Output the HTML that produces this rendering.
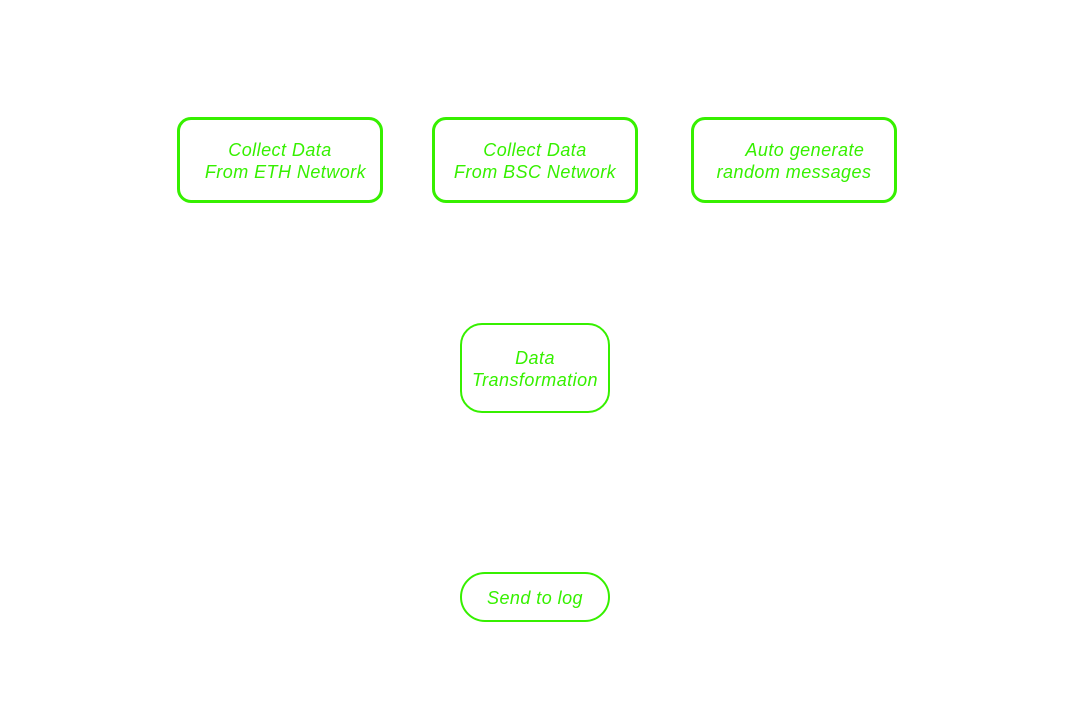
<!DOCTYPE html>
<html>
<head>
<meta charset="utf-8">
<style>
  html, body { margin:0; padding:0; background:#ffffff; }
  body { width:1069px; height:708px; position:relative; overflow:hidden;
         font-family:"Liberation Sans", Arial, sans-serif; }
  .box { position:absolute; box-sizing:border-box; border:3px solid #36f000;
         border-radius:14px; display:flex; align-items:center; justify-content:center;
         text-align:center; color:#36f000; font-style:italic; font-size:18px; line-height:22px;
         letter-spacing:0.45px; padding-top:2px; }
  .thin { border-width:2px; }
</style>
</head>
<body>
  <div class="box" style="left:177px; top:117px; width:206px; height:86px;">Collect Data<br>&nbsp;&nbsp;From ETH Network</div>
  <div class="box" style="left:432px; top:117px; width:206px; height:86px;">Collect Data<br>From BSC Network</div>
  <div class="box" style="left:691px; top:117px; width:206px; height:86px;">&nbsp;&nbsp;&nbsp;&nbsp;Auto generate<br>random messages</div>
  <div class="box thin" style="left:460px; top:323px; width:150px; height:90px; border-radius:22px;">Data<br>Transformation</div>
  <div class="box thin" style="left:460px; top:572px; width:150px; height:50px; border-radius:25px;">Send to log</div>
</body>
</html>
